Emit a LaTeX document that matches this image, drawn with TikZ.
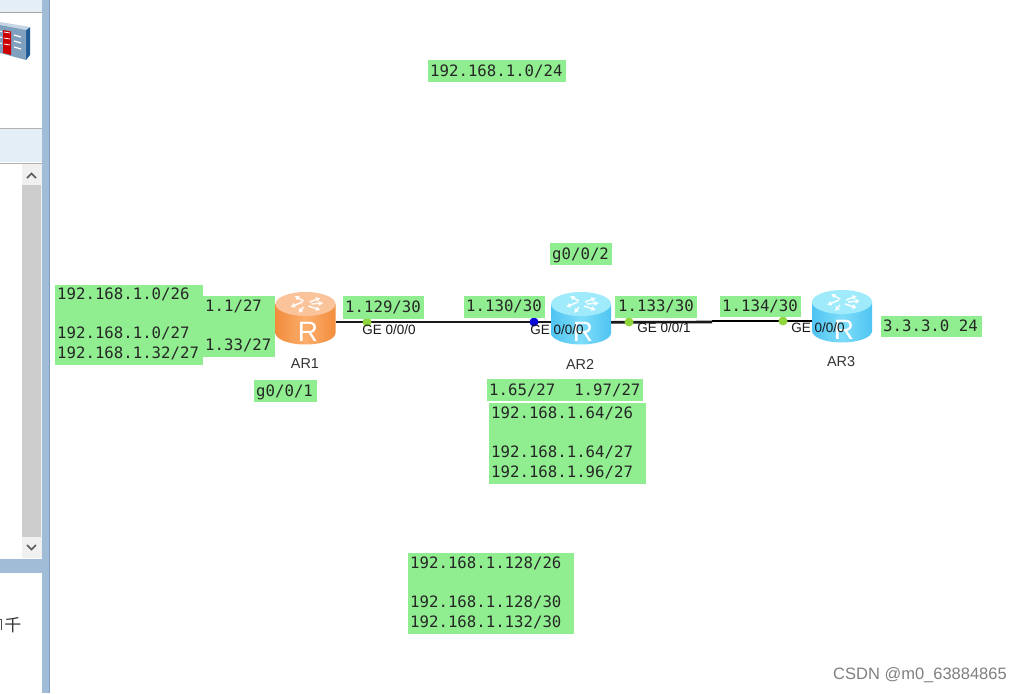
\documentclass[tikz,border=0pt]{standalone}
\usepackage{fontspec}
\setmainfont{Liberation Sans}
\newfontfamily\monof{DejaVu Sans Mono}
\newfontfamily\cjkf{Noto Sans CJK SC}
\usetikzlibrary{arrows.meta}
\definecolor{gbox}{HTML}{90EE90}
\definecolor{dotg}{HTML}{8FD63F}
\definecolor{dotb}{HTML}{0A0AD8}
\definecolor{frame}{HTML}{A0BCD6}
\definecolor{framel}{HTML}{7F9DBD}
\definecolor{hdr}{HTML}{E4EEF7}
\definecolor{fwdark}{HTML}{1F5C96}
\definecolor{fwface}{HTML}{7FA0BE}
\definecolor{fwtop}{HTML}{C4D6E6}
\definecolor{ortop}{HTML}{FBC39A}
\definecolor{orside}{HTML}{F28C3C}
\definecolor{orlight}{HTML}{FBAE6C}
\definecolor{bltop}{HTML}{9FEBFB}
\definecolor{blside}{HTML}{4FC4F2}
\definecolor{bllight}{HTML}{7FDDF9}
\tikzset{
  x=1pt,y=-1pt,
  greenbox/.style={fill=gbox,draw=none},
  monotxt/.style={anchor=base west,inner sep=0pt,text=black!85,font=\fontsize{15.7}{18}\selectfont\monof},
  portlbl/.style={inner sep=0pt,text=black!90,font=\fontsize{13.5}{15}\selectfont},
  hostlbl/.style={inner sep=0pt,text=black!80,font=\fontsize{14.4}{15}\selectfont},
  link/.style={line width=2.6pt,draw=black!90},
  portdot/.style={circle,inner sep=0pt,minimum size=9pt,fill=dotg,draw=none},
  routerbox/.style={rectangle,inner sep=0pt,minimum width=60pt,minimum height=54pt,draw=none},
  rletter/.style={inner sep=0pt,text=white,font=\fontsize{28}{30}\selectfont},
  rarrow/.style={-{Latex[length=4.5pt,width=5.5pt]},white,line width=1.6pt,opacity=.9},
}
\newcommand{\gbx}[4]{\fill[greenbox] (#1,#2) rectangle (#3,#4);}
% cx, top, topcolor, sidedark, sidelight
\newcommand{\routershape}[5]{%
  \begin{scope}[shift={(#1,#2)}]
    \path[left color=#4,right color=#4,middle color=#5]
      (-30,12) -- (-30,41) arc[start angle=180,end angle=0,x radius=30,y radius=11.5] -- (30,12) -- cycle;
    \fill[#3] (0,12) ellipse[x radius=30,y radius=12];
    \draw[rarrow] (-3,10) -- (-15,15);
    \draw[rarrow] (3,14) -- (15,18);
    \draw[rarrow] (4,10) -- (15,6);
    \draw[rarrow] (-2,9) -- (-11,4);
    \draw[rarrow] (-2,15) -- (-7,21);
    \draw[rarrow] (6,12) -- (18,11);
  \end{scope}}
\begin{document}
\begin{tikzpicture}
\useasboundingbox (0,0) rectangle (1022,693);
\fill[white] (0,0) rectangle (1022,693);
% left window frame
\fill[hdr] (0,0) rectangle (42,12);
\draw[black!35,line width=.8pt] (0,12.5) -- (42,12.5);
\fill[hdr] (0,129) rectangle (42,162);
\draw[black!30,line width=.8pt] (0,128.5) -- (42,128.5);
\draw[black!30,line width=.8pt] (0,163) -- (42,163);
\fill[black!6] (22,164) rectangle (42,558);
\fill[black!20] (22,185) rectangle (41,537);
\draw[black!65,line width=1.6pt] (27,178) -- (31.5,173.5) -- (36,178);
\draw[black!65,line width=1.6pt] (27,545) -- (31.5,549.5) -- (36,545);
\fill[frame] (0,559) rectangle (42,573);
\fill[frame] (42,0) rectangle (50,693);
\fill[framel] (49,0) rectangle (50,693);
% firewall icon
\fill[fwdark] (26,30) -- (30,27) -- (30,55) -- (26,60) -- cycle;
\fill[fwtop] (0,22) -- (30,27) -- (26,30) -- (0,25) -- cycle;
\fill[fwface] (0,25) -- (26,30) -- (26,60) -- (0,53) -- cycle;
\fill[red!80!black] (3,30) -- (11,31.5) -- (11,55) -- (3,53) -- cycle;
\foreach \yy in {35,41,47}{
  \draw[white,line width=1.3pt] (14,\yy) -- (21,\yy+2);
  \draw[white,line width=.8pt] (4,\yy-3) -- (10,\yy-2);
  \draw[white,line width=1pt] (0,\yy-4) -- (2,\yy-3.5);
}
% bottom panel text
\node[inner sep=0pt,text=black!80,font=\fontsize{17}{18}\selectfont\cjkf] (panelchar) at (13,625) {千};
\draw[black!70,line width=1pt] (0,619) -- (1.5,619) -- (1.5,630);
% routers
\routershape{305.5}{292}{ortop}{orside}{orlight}
\routershape{581}{292}{bltop}{blside}{bllight}
\routershape{842}{290}{bltop}{blside}{bllight}
\node[routerbox] (ar1) at (305.5,318.5) {};
\node[routerbox] (ar2) at (581,318.5) {};
\node[routerbox] (ar3) at (842,316.5) {};
\node[rletter] (r1) at (308,332) {R};
\node[rletter] (r2) at (583,332) {R};
\node[rletter] (r3) at (844,330) {R};
% links
\coordinate (bend) at (712,322);
\draw[link] ([yshift=-3.5pt]ar1.east) -- ([yshift=-3.5pt]ar2.west);
\draw[link] ([yshift=-3.8pt]ar2.east) -- (bend);
\draw[link,draw=black] ([yshift=1pt]bend) -- ([yshift=-4.5pt]ar3.west);
% port dots
\node[portdot] (p1) at (367,322) {};
\node[portdot,fill=dotb] (p2) at (534,322) {};
\node[portdot] (p3) at (629,322) {};
\node[portdot] (p4) at (783,321) {};
% port labels
\node[portlbl] (l1) at (389,330) {GE 0/0/0};
\node[portlbl] (l2) at (557,330) {GE 0/0/0};
\node[portlbl] (l3) at (664,328) {GE 0/0/1};
\node[portlbl] (l4) at (818,328) {GE 0/0/0};
\node[hostlbl] (h1) at (305,364) {AR1};
\node[hostlbl] (h2) at (580,364) {AR2};
\node[hostlbl] (h3) at (841,362) {AR3};
% green notes
\gbx{428}{60}{566}{82}
\node[monotxt] (t1) at (430,76) {192.168.1.0/24};
\gbx{55}{285}{203}{365}
\node[monotxt] (t2) at (57,299) {192.168.1.0/26};
\node[monotxt] (t3) at (57,338) {192.168.1.0/27};
\node[monotxt] (t4) at (57,358) {192.168.1.32/27};
\gbx{203}{296}{275}{357}
\node[monotxt] (t5) at (205,311) {1.1/27};
\node[monotxt] (t6) at (205,350) {1.33/27};
\gbx{343}{296}{424}{319}
\node[monotxt] (t7) at (345,312) {1.129/30};
\gbx{254}{380}{317}{402}
\node[monotxt] (t8) at (256,396) {g0/0/1};
\gbx{464}{296}{545}{318}
\node[monotxt] (t9) at (466,311) {1.130/30};
\gbx{615}{296}{697}{318}
\node[monotxt] (t10) at (618,311) {1.133/30};
\gbx{720}{296}{801}{317}
\node[monotxt] (t11) at (722,311) {1.134/30};
\gbx{881}{316}{982}{337}
\node[monotxt] (t12) at (883,331) {3.3.3.0 24};
\gbx{550}{243}{612}{265}
\node[monotxt] (t13) at (552,259) {g0/0/2};
\gbx{487}{379}{643}{401}
\node[monotxt] (t14) at (489,395) {1.65/27\ \ 1.97/27};
\gbx{489}{403}{646}{484}
\node[monotxt] (t15) at (491,418) {192.168.1.64/26};
\node[monotxt] (t16) at (491,457) {192.168.1.64/27};
\node[monotxt] (t17) at (491,477) {192.168.1.96/27};
\gbx{408}{553}{574}{634}
\node[monotxt] (t18) at (410,568) {192.168.1.128/26};
\node[monotxt] (t19) at (410,607) {192.168.1.128/30};
\node[monotxt] (t20) at (410,627) {192.168.1.132/30};
% watermark
\node[inner sep=0pt,text=black!50,anchor=east,font=\fontsize{16.5}{18}\selectfont] (wm) at (1007,675) {CSDN @m0\_63884865};
\end{tikzpicture}
\end{document}
